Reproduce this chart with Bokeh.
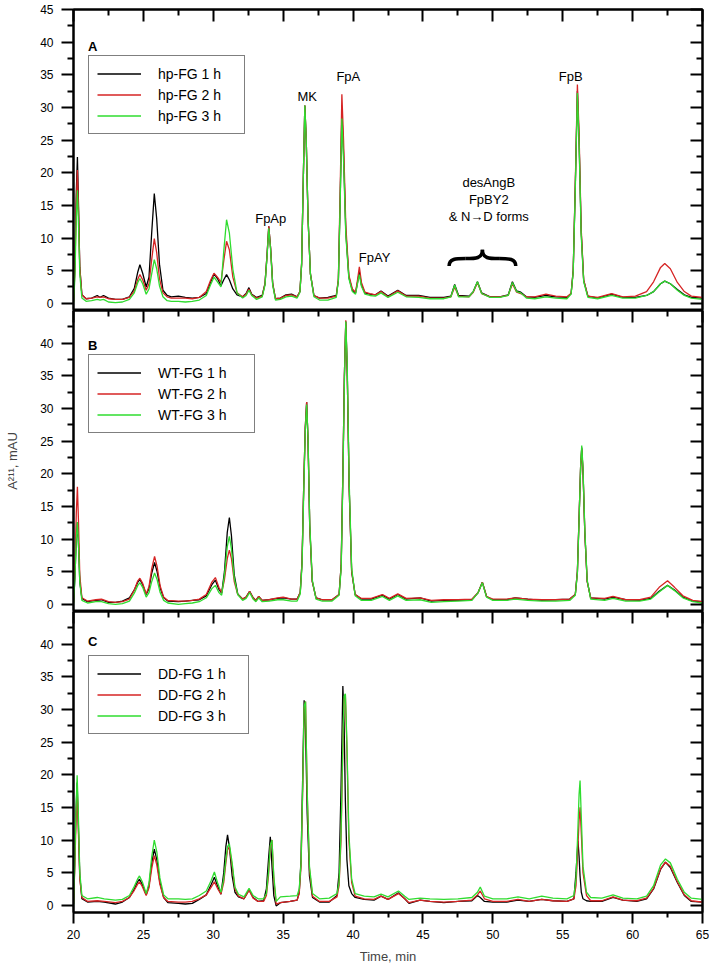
from bokeh.plotting import figure
from bokeh.models import (Range1d, FixedTicker, LinearAxis, Legend, LegendItem,
                          ColumnDataSource, CustomLabelingPolicy)
from bokeh.layouts import column
from bokeh.core.properties import value
from bokeh.embed import file_html
from bokeh.resources import INLINE

# ---------------- data: panel A (hp-FG) ----------------
a_time = [20.00, 20.10, 20.20, 20.28, 20.36, 20.45, 20.60, 20.90, 21.30, 21.70,
          21.90, 22.15, 22.50, 23.00, 23.50, 24.00, 24.35, 24.60, 24.75, 24.95,
          25.20, 25.40, 25.60, 25.78, 25.95, 26.15, 26.40, 26.70, 27.00, 27.50,
          28.00, 28.50, 29.00, 29.50, 29.80, 30.05, 30.30, 30.55, 30.75, 30.95,
          31.15, 31.40, 31.70, 32.10, 32.35, 32.55, 32.75, 33.10, 33.50, 33.70,
          33.85, 33.97, 34.10, 34.25, 34.45, 34.80, 35.20, 35.60, 36.00, 36.20,
          36.32, 36.44, 36.55, 36.65, 36.78, 36.95, 37.20, 37.60, 38.20, 38.80,
          38.95, 39.08, 39.20, 39.32, 39.48, 39.70, 39.95, 40.18, 40.32, 40.45,
          40.60, 40.85, 41.20, 41.60, 42.00, 42.50, 43.20, 43.80, 44.70, 45.50,
          46.50, 47.00, 47.27, 47.55, 48.30, 48.60, 48.90, 49.20, 49.80, 50.50,
          51.10, 51.40, 51.70, 52.00, 52.40, 53.00, 53.80, 54.50, 55.30, 55.60,
          55.75, 55.90, 56.05, 56.17, 56.32, 56.50, 56.80, 57.50, 58.50, 59.30,
          60.20, 61.00, 61.50, 62.00, 62.30, 62.70, 63.20, 63.70, 64.20, 65.00]
a_hp1 = [0.3, 6.0, 17.0, 22.4, 15.0, 5.5, 1.3, 0.7, 0.8, 1.2,
         0.9, 1.2, 0.8, 0.6, 0.6, 1.0, 2.3, 4.8, 5.9, 4.6,
         2.5, 4.0, 11.0, 16.8, 13.0, 6.0, 2.0, 1.2, 1.0, 1.1,
         0.9, 0.8, 0.9, 1.5, 3.2, 4.5, 3.8, 2.7, 3.6, 4.4,
         3.6, 2.2, 1.3, 1.0, 1.5, 2.4, 1.4, 0.9, 1.2, 3.0,
         7.5, 11.8, 8.5, 3.0, 0.7, 0.8, 1.3, 1.4, 1.0, 1.8,
         6.0, 19.0, 30.3, 25.0, 13.0, 4.5, 1.2, 0.8, 0.9, 1.2,
         3.5, 16.0, 29.3, 23.0, 11.0, 4.0, 2.0, 1.6, 3.2, 4.8,
         2.8, 1.6, 1.4, 1.3, 1.9, 1.1, 2.0, 1.2, 1.2, 0.9,
         0.9, 1.1, 2.9, 1.2, 1.1, 1.8, 3.3, 1.6, 1.0, 1.0,
         1.3, 3.3, 1.9, 1.7, 1.0, 0.9, 1.2, 1.0, 0.9, 1.5,
         5.0, 18.0, 32.5, 25.0, 11.0, 3.5, 1.1, 0.8, 1.4, 0.9,
         0.9, 1.2, 1.8, 3.0, 3.4, 3.0, 2.1, 1.3, 0.9, 0.8]
a_hp2 = [0.3, 5.0, 15.5, 20.4, 14.0, 5.5, 1.3, 0.7, 0.8, 1.0,
         0.9, 1.0, 0.7, 0.6, 0.6, 0.9, 1.9, 3.7, 4.4, 3.6,
         2.0, 3.0, 6.8, 9.9, 7.8, 3.8, 1.6, 1.0, 0.8, 0.8,
         0.8, 0.7, 0.9, 1.8, 3.5, 4.6, 4.0, 3.2, 6.5, 9.5,
         8.2, 4.0, 1.6, 1.0, 1.4, 2.2, 1.3, 0.8, 1.1, 3.0,
         7.5, 11.8, 8.5, 3.0, 0.7, 0.8, 1.2, 1.3, 1.0, 1.8,
         6.0, 19.0, 30.3, 25.0, 13.0, 4.5, 1.2, 0.8, 0.8, 1.1,
         3.8, 17.5, 32.0, 25.0, 12.0, 4.3, 2.2, 1.7, 3.6, 5.6,
         3.2, 1.7, 1.5, 1.3, 1.8, 1.0, 1.9, 1.1, 1.1, 0.8,
         0.8, 1.0, 2.5, 1.1, 1.0, 1.7, 3.2, 1.5, 1.0, 1.0,
         1.2, 3.0, 1.7, 1.5, 1.0, 1.0, 1.4, 1.1, 1.0, 1.5,
         5.0, 18.5, 33.5, 26.0, 11.5, 3.6, 1.1, 0.9, 1.5, 1.0,
         1.1, 1.8, 3.3, 5.5, 6.1, 5.3, 3.2, 1.8, 1.1, 0.9]
a_hp3 = [0.0, 4.0, 13.0, 17.3, 12.0, 4.5, 0.8, 0.3, 0.4, 0.6,
         0.5, 0.6, 0.2, 0.1, 0.2, 0.6, 1.6, 3.2, 3.8, 3.0,
         1.4, 2.2, 4.6, 6.7, 5.3, 2.7, 1.0, 0.4, 0.3, 0.3,
         0.2, 0.3, 0.5, 1.2, 2.8, 4.0, 3.3, 2.5, 8.0, 12.8,
         10.8, 5.2, 1.6, 0.8, 1.2, 2.0, 1.2, 0.6, 1.0, 2.8,
         7.2, 11.5, 8.2, 2.8, 0.5, 0.6, 1.0, 1.1, 0.8, 1.7,
         6.0, 19.0, 30.3, 25.0, 13.0, 4.5, 1.0, 0.5, 0.5, 0.9,
         3.5, 15.5, 28.3, 22.0, 10.5, 3.8, 1.8, 1.4, 3.0, 4.4,
         2.6, 1.4, 1.2, 1.1, 1.6, 0.9, 1.7, 1.0, 0.9, 0.7,
         0.7, 1.0, 2.8, 1.0, 1.0, 1.8, 3.3, 1.5, 0.9, 0.9,
         1.2, 3.2, 1.8, 1.6, 0.8, 0.7, 1.0, 0.8, 0.7, 1.4,
         4.8, 17.5, 32.2, 24.5, 10.5, 3.3, 0.9, 0.7, 1.2, 0.8,
         0.8, 1.2, 1.8, 3.0, 3.4, 3.0, 2.0, 1.2, 0.8, 0.6]

# ---------------- data: panel B (WT-FG) ----------------
b_time = [20.00, 20.10, 20.20, 20.28, 20.36, 20.45, 20.60, 21.00, 21.60, 22.00,
          22.50, 23.00, 23.50, 24.00, 24.35, 24.60, 24.75, 24.95, 25.20, 25.40,
          25.60, 25.80, 25.98, 26.20, 26.45, 26.75, 27.50, 28.00, 28.50, 29.00,
          29.50, 29.90, 30.15, 30.40, 30.60, 30.80, 31.00, 31.15, 31.30, 31.50, 31.75, 32.10,
          32.35, 32.60, 32.85, 33.05, 33.25, 33.50, 34.00, 34.60, 35.00, 35.60, 36.00,
          36.22, 36.35, 36.47, 36.58, 36.68, 36.78, 36.90, 37.08, 37.35, 37.80, 38.50,
          39.00, 39.15, 39.28, 39.38, 39.48, 39.58, 39.72, 39.90, 40.15, 40.60,
          41.30, 42.10, 42.60, 43.20, 43.80, 44.80, 45.60, 46.50, 47.50, 48.50,
          48.95, 49.25, 49.55, 50.00, 51.00, 51.60, 52.50, 53.50, 54.50, 55.50,
          55.90, 56.05, 56.18, 56.28, 56.36, 56.45, 56.58, 56.75, 57.00, 58.00,
          58.60, 59.50, 60.50, 61.30, 61.90, 62.50, 63.00, 63.60, 64.30, 65.00]
b_wt1 = [0.3, 4.0, 10.0, 12.6, 9.0, 3.5, 0.9, 0.4, 0.6, 0.7,
         0.3, 0.3, 0.5, 1.0, 2.2, 3.4, 3.8, 3.0, 1.5, 2.4,
         4.8, 6.4, 5.0, 2.5, 1.0, 0.5, 0.4, 0.5, 0.6, 0.7,
         1.3, 3.0, 3.7, 2.3, 1.7, 5.0, 11.0, 13.3, 10.5, 4.5, 1.6, 0.8,
         1.1, 2.0, 1.0, 0.6, 1.2, 0.6, 0.7, 0.9, 1.0, 0.8, 0.8,
         1.8, 6.5, 18.0, 27.0, 31.0, 25.0, 12.0, 3.5, 1.0, 0.7, 0.7,
         1.5, 6.0, 21.0, 35.0, 43.3, 36.0, 18.0, 5.0, 1.5, 0.8,
         0.8, 1.4, 0.8, 1.5, 0.8, 1.0, 0.5, 0.6, 0.6, 0.7,
         1.8, 3.4, 1.2, 0.7, 0.7, 1.0, 0.8, 0.6, 0.7, 0.8,
         1.5, 5.0, 14.0, 21.0, 24.0, 20.5, 11.0, 3.5, 1.0, 0.8,
         1.1, 0.7, 0.6, 0.9, 2.0, 2.9, 2.2, 1.1, 0.5, 0.4]
b_wt2 = [0.3, 5.5, 14.0, 18.0, 12.5, 4.5, 1.0, 0.5, 0.7, 0.8,
         0.4, 0.3, 0.4, 0.8, 2.2, 3.6, 4.0, 3.2, 1.6, 2.7,
         5.5, 7.35, 5.8, 2.8, 1.1, 0.6, 0.5, 0.5, 0.6, 0.8,
         1.5, 3.4, 4.1, 2.6, 1.8, 3.8, 7.0, 8.3, 7.0, 3.5, 1.5, 0.8,
         1.1, 2.0, 1.0, 0.6, 1.2, 0.6, 0.7, 1.0, 1.1, 0.8, 0.8,
         1.8, 6.5, 18.0, 27.0, 31.0, 25.0, 12.0, 3.5, 1.0, 0.7, 0.7,
         1.5, 6.0, 21.0, 35.0, 43.5, 36.0, 18.0, 5.0, 1.5, 0.9,
         0.9, 1.5, 0.9, 1.6, 0.9, 1.0, 0.6, 0.7, 0.7, 0.8,
         1.8, 3.4, 1.2, 0.8, 0.8, 1.0, 0.8, 0.7, 0.7, 0.8,
         1.5, 5.0, 14.0, 21.0, 23.8, 20.5, 11.0, 3.5, 1.0, 0.9,
         1.2, 0.7, 0.7, 1.1, 2.6, 3.6, 2.6, 1.3, 0.6, 0.4]
b_wt3 = [0.0, 4.0, 10.0, 12.6, 9.0, 3.3, 0.6, 0.2, 0.4, 0.4,
         0.1, 0.0, 0.1, 0.5, 1.7, 2.9, 3.3, 2.6, 1.1, 1.8,
         3.5, 4.8, 3.8, 1.8, 0.6, 0.2, 0.0, 0.1, 0.2, 0.4,
         1.0, 2.4, 2.9, 1.8, 1.4, 4.5, 8.8, 10.4, 8.5, 4.0, 1.5, 0.6,
         0.9, 1.8, 0.8, 0.4, 1.0, 0.4, 0.5, 0.7, 0.7, 0.5, 0.5,
         1.6, 6.0, 17.0, 26.5, 30.6, 25.5, 12.5, 3.8, 0.8, 0.5, 0.5,
         1.4, 5.5, 20.0, 34.0, 43.3, 37.0, 19.0, 5.5, 1.3, 0.6,
         0.6, 1.2, 0.6, 1.3, 0.6, 0.7, 0.3, 0.4, 0.5, 0.6,
         1.8, 3.3, 1.1, 0.6, 0.6, 0.8, 0.6, 0.5, 0.5, 0.6,
         1.4, 4.8, 13.5, 21.0, 24.3, 21.0, 11.5, 3.7, 0.8, 0.6,
         0.9, 0.5, 0.5, 0.8, 1.9, 2.9, 2.1, 1.0, 0.4, 0.2]

# ---------------- data: panel C (DD-FG) ----------------
c_time = [20.00, 20.08, 20.17, 20.26, 20.34, 20.45, 20.60, 21.00, 21.70, 22.20,
          23.00, 23.50, 24.00, 24.35, 24.58, 24.72, 24.92, 25.20, 25.40, 25.60,
          25.78, 25.96, 26.18, 26.45, 26.75, 27.50, 28.00, 28.50, 29.00, 29.50,
          29.85, 30.08, 30.30, 30.55, 30.75, 30.90, 31.02, 31.15, 31.35, 31.55, 31.80,
          32.20, 32.56, 32.85, 33.20, 33.60, 33.80, 33.95, 34.08, 34.20, 34.33, 34.50,
          34.80, 35.50, 36.00, 36.15, 36.28, 36.40, 36.50, 36.60, 36.72, 36.88, 37.10, 37.60,
          38.30, 38.85, 39.00, 39.14, 39.27, 39.36, 39.45, 39.56, 39.70, 39.90, 40.15,
          40.80, 41.50, 42.00, 42.50, 43.25, 43.70, 44.00, 44.80, 45.50, 46.50,
          47.50, 48.50, 48.90, 49.10, 49.40, 50.00, 51.00, 51.80, 52.60, 53.50,
          54.30, 55.30, 55.80, 55.95, 56.09, 56.17, 56.24, 56.33, 56.45, 56.70, 57.00,
          57.80, 58.60, 59.30, 60.30, 61.00, 61.50, 62.00, 62.35, 62.70, 63.20, 63.70, 64.20, 65.00]
c_dd1 = [0.2, 6.0, 14.0, 18.8, 13.0, 4.5, 1.0, 0.5, 0.6, 0.5,
         0.2, 0.5, 1.2, 2.5, 3.6, 4.0, 3.2, 1.6, 3.0, 6.5,
         8.6, 7.0, 3.5, 1.2, 0.4, 0.3, 0.2, 0.3, 0.9, 1.6,
         3.2, 4.3, 3.0, 1.7, 5.0, 9.0, 10.8, 9.0, 4.5, 2.0, 1.3,
         1.0, 2.4, 1.2, 0.6, 0.7, 2.5, 7.0, 10.5, 6.0, 1.5, -0.1,
         0.4, 0.6, 0.8, 2.0, 7.0, 20.0, 31.4, 27.0, 14.0, 4.5, 1.2, 0.5,
         0.5, 1.5, 5.0, 18.0, 33.6, 28.0, 16.0, 7.0, 3.0, 1.8, 1.2,
         0.9, 0.8, 1.4, 0.9, 1.9, 1.0, 0.3, 0.8, 0.6, 0.4,
         0.6, 0.7, 1.5, 1.2, 0.6, 0.5, 0.5, 0.8, 0.6, 0.9,
         0.7, 0.6, 1.0, 5.0, 9.9, 7.5, 4.5, 2.0, 1.0, 0.7, 0.6,
         0.6, 1.2, 0.8, 0.6, 1.0, 2.5, 5.5, 6.6, 5.8, 3.5, 1.5, 0.6, 0.5]
c_dd2 = [0.3, 5.0, 12.0, 17.3, 12.0, 4.0, 1.2, 0.6, 0.7, 0.6,
         0.4, 0.6, 1.2, 2.3, 3.2, 3.6, 2.9, 1.5, 2.7, 5.7,
         7.6, 6.2, 3.2, 1.2, 0.6, 0.5, 0.5, 0.6, 1.0, 1.6,
         2.8, 3.6, 2.6, 1.7, 3.5, 6.5, 8.5, 8.9, 6.0, 2.5, 1.4,
         1.0, 2.3, 1.1, 0.6, 0.6, 1.5, 4.5, 9.0, 10.0, 4.0, 0.2,
         0.4, 0.6, 0.8, 1.8, 6.0, 18.0, 30.0, 31.2, 17.0, 5.5, 1.4, 0.6,
         0.6, 1.3, 3.0, 10.0, 24.0, 31.5, 32.3, 24.0, 10.0, 3.5, 1.4,
         1.0, 0.9, 1.4, 0.9, 1.8, 1.0, 0.4, 0.8, 0.6, 0.5,
         0.6, 0.8, 1.6, 2.2, 1.0, 0.6, 0.6, 0.9, 0.6, 0.9,
         0.7, 0.6, 1.0, 3.0, 9.0, 13.0, 15.0, 11.0, 5.0, 1.5, 0.7,
         0.7, 1.3, 0.8, 0.7, 1.1, 2.6, 5.6, 6.6, 6.0, 3.6, 1.6, 0.7, 0.5]
c_dd3 = [0.0, 5.5, 14.0, 19.9, 14.5, 5.0, 1.5, 1.0, 1.2, 1.0,
         0.8, 0.9, 1.5, 2.9, 4.0, 4.5, 3.6, 1.8, 3.4, 7.5,
         10.0, 8.2, 4.2, 1.6, 1.0, 1.0, 0.9, 1.0, 1.5, 2.2,
         3.8, 5.1, 3.5, 2.0, 4.0, 7.0, 9.0, 9.4, 6.5, 2.8, 1.7,
         1.3, 2.6, 1.5, 1.0, 1.0, 1.8, 5.0, 9.2, 10.0, 4.5, 0.6,
         1.3, 1.4, 1.5, 2.5, 6.5, 18.5, 30.5, 31.2, 17.5, 6.0, 1.8, 1.0,
         1.1, 1.8, 3.5, 11.0, 25.0, 32.0, 32.4, 25.0, 11.0, 4.0, 1.8,
         1.4, 1.3, 1.7, 1.3, 2.2, 1.4, 0.9, 1.1, 1.0, 0.9,
         1.0, 1.2, 2.0, 2.8, 1.4, 1.0, 1.0, 1.3, 1.0, 1.4,
         1.1, 1.0, 1.5, 4.0, 12.0, 17.0, 19.1, 13.5, 6.0, 2.0, 1.2,
         1.1, 1.6, 1.1, 1.0, 1.4, 3.0, 6.2, 7.1, 6.5, 4.0, 2.0, 1.1, 0.9]

a_labels = ["hp-FG 1 h", "hp-FG 2 h", "hp-FG 3 h"]
b_labels = ["WT-FG 1 h", "WT-FG 2 h", "WT-FG 3 h"]
c_labels = ["DD-FG 1 h", "DD-FG 2 h", "DD-FG 3 h"]

# peak annotations (panel A)
peak_names = ["FpAp", "MK", "FpA", "FpAY", "desAngB", "FpBY2", "& N\u2192D forms", "FpB"]
peak_name_x = [34.11, 36.72, 39.66, 41.54, 49.71, 49.71, 49.71, 55.57]
peak_name_y = [12.97, 31.6, 34.7, 7.04, 18.53, 15.93, 13.32, 34.7]
brace_x = [46.87, 51.64]
brace_end_y = 5.7
brace_body_y = 6.85
brace_tip_y = 8.2

X_MAJOR = [20, 25, 30, 35, 40, 45, 50, 55, 60, 65]
X_MINOR = [22.5, 27.5, 32.5, 37.5, 42.5, 47.5, 52.5, 57.5, 62.5]
Y_MAJOR_A = [0, 5, 10, 15, 20, 25, 30, 35, 40, 45]
Y_MAJOR_BC = [0, 5, 10, 15, 20, 25, 30, 35, 40]
Y_MINOR = [2.5, 7.5, 12.5, 17.5, 22.5, 27.5, 32.5, 37.5, 42.5]
Y_RANGE = (-1.1, 45)
X_RANGE = (20, 65)

FONT = "Liberation Sans"
COLORS = ["#000000", "#d62424", "#2fdc2f"]
W = 709

NO_LABELS = CustomLabelingPolicy(code="""
try { for (const i of Array.from(indices)) { indices.unset(i) } } catch (e) {}
return indices
""")


def style_axis(ax, tin, tout, show_labels):
    ax.axis_line_width = 2
    ax.axis_line_color = "black"
    ax.major_tick_line_width = 2
    ax.minor_tick_line_width = 2
    ax.major_tick_line_color = "black"
    ax.minor_tick_line_color = "black"
    ax.major_tick_in = tin
    ax.major_tick_out = tout
    ax.minor_tick_in = tin // 2
    ax.minor_tick_out = tout // 2
    if show_labels:
        ax.major_label_text_font = FONT
        ax.major_label_text_font_size = "12px"
        ax.major_label_text_color = "black"
    else:
        ax.major_label_policy = NO_LABELS
        ax.major_label_text_font_size = "0px"
        ax.major_label_standoff = 0
        ax.axis_label_standoff = 0


def make_panel(t, ys, labels, letter, letter_y, height, top_border, bottom_border,
               ymajor, legend_label_w, legend_y, bottom_axis=False, ylabel=None):
    p = figure(width=W, height=height, x_range=Range1d(*X_RANGE), y_range=Range1d(*Y_RANGE),
               x_axis_type=None, y_axis_type=None, output_backend="svg", toolbar_location=None,
               min_border_left=73, min_border_right=7, min_border_top=top_border,
               min_border_bottom=bottom_border)
    p.outline_line_color = "black"
    p.outline_line_width = 2
    p.background_fill_color = "white"
    p.border_fill_color = "white"

    left = LinearAxis(ticker=FixedTicker(ticks=ymajor, minor_ticks=Y_MINOR))
    style_axis(left, 0, 12, True)
    left.major_label_standoff = 8
    if ylabel:
        left.axis_label = ylabel
        left.axis_label_text_font = FONT
        left.axis_label_text_font_style = "normal"
        left.axis_label_text_font_size = "13px"
        left.axis_label_standoff = 17
    p.add_layout(left, "left")

    right = LinearAxis(ticker=FixedTicker(ticks=ymajor, minor_ticks=Y_MINOR))
    style_axis(right, 12, 0, False)
    p.add_layout(right, "right")

    top = LinearAxis(ticker=FixedTicker(ticks=X_MAJOR, minor_ticks=X_MINOR))
    style_axis(top, 12, 0, False)
    p.add_layout(top, "above")

    if bottom_axis:
        bot = LinearAxis(ticker=FixedTicker(ticks=X_MAJOR, minor_ticks=X_MINOR))
        style_axis(bot, 0, 11, True)
        bot.major_label_standoff = 6
        bot.axis_label = "Time, min"
        bot.axis_label_text_font = FONT
        bot.axis_label_text_font_style = "normal"
        bot.axis_label_text_font_size = "13px"
        bot.axis_label_standoff = 7
        p.add_layout(bot, "below")

    src = ColumnDataSource(dict(t=t, s1=ys[0], s2=ys[1], s3=ys[2]))
    rends = []
    for col, c in zip(["s1", "s2", "s3"], COLORS):
        r = p.line("t", col, source=src, line_color=c, line_width=1.3)
        rends.append(r)

    legend = Legend(items=[LegendItem(label=lab, renderers=[r]) for lab, r in zip(labels, rends)],
                    location=(15, legend_y), orientation="vertical")
    legend.border_line_color = "black"
    legend.border_line_width = 1.3
    legend.background_fill_color = "white"
    legend.background_fill_alpha = 1.0
    legend.padding = 8
    legend.spacing = 2
    legend.margin = 0
    legend.label_height = 19
    legend.glyph_height = 19
    legend.glyph_width = 44
    legend.label_standoff = 17
    legend.label_width = legend_label_w
    legend.label_text_font = FONT
    legend.label_text_font_size = "14px"
    legend.label_text_color = "black"
    p.add_layout(legend)

    p.text(x=[21.38], y=[letter_y], text=[letter], text_font=value(FONT),
           text_font_size=value("13px"), text_font_style="bold",
           text_align="center", text_baseline="middle", text_color="black")
    return p


pA = make_panel(a_time, [a_hp1, a_hp2, a_hp3], a_labels, "A", 39.3, 310, 9, 0,
                Y_MAJOR_A, 78, 176)
pB = make_panel(b_time, [b_wt1, b_wt2, b_wt3], b_labels, "B", 39.7, 301, 0, 0,
                Y_MAJOR_BC, 88, 178, ylabel="A\u00b2\u00b9\u00b9, mAU")
pC = make_panel(c_time, [c_dd1, c_dd2, c_dd3], c_labels, "C", 40.4, 357, 0, 56,
                Y_MAJOR_BC, 82, 178, bottom_axis=True)

# annotations in panel A
pA.text(x=peak_name_x, y=peak_name_y, text=peak_names, text_font=value(FONT),
        text_font_size=value("13px"), text_align="center", text_baseline="middle",
        text_color="black")

# curly brace built from its ends, body and tip levels
bx0, bx1 = brace_x
bxc = (bx0 + bx1) / 2.0
half = bxc - bx0
bmid_l = bx0 + 0.5 * half
bmid_r = bx1 - 0.5 * half
pA.bezier(x0=[bx0, bmid_l, bx1, bmid_r],
          y0=[brace_end_y, brace_body_y, brace_end_y, brace_body_y],
          x1=[bmid_l, bxc, bmid_r, bxc],
          y1=[brace_body_y, brace_tip_y, brace_body_y, brace_tip_y],
          cx0=[bx0, bxc - 0.2 * half, bx1, bxc + 0.2 * half],
          cy0=[brace_body_y, brace_body_y, brace_body_y, brace_body_y],
          cx1=[bx0 + 0.2 * half, bxc, bx1 - 0.2 * half, bxc],
          cy1=[brace_body_y, brace_body_y, brace_body_y, brace_body_y],
          line_color="black", line_width=3.5)

layout = column(pA, pB, pC, spacing=0)
open("out.html", "w").write(file_html(layout, INLINE))
